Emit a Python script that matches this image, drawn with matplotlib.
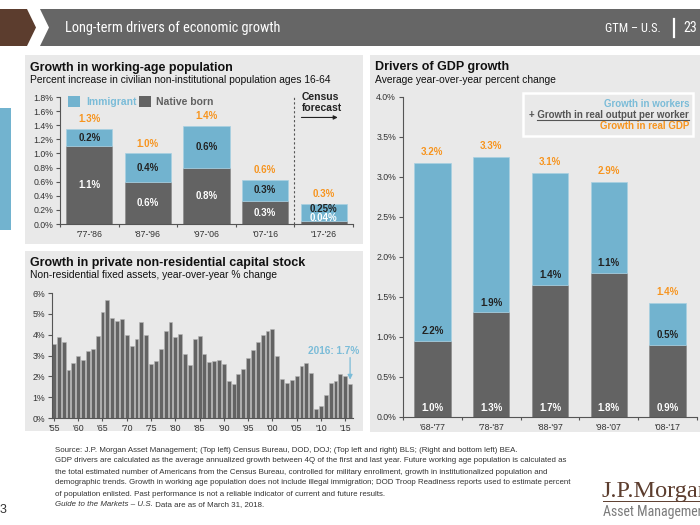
import numpy as np
import matplotlib
matplotlib.use("Agg")
import matplotlib.pyplot as plt
from matplotlib.patches import Rectangle, Polygon
from matplotlib.lines import Line2D
from matplotlib import font_manager as fm

plt.rcParams['font.family'] = ['Liberation Sans', 'DejaVu Sans']

# ---------------- data ----------------
pop_periods = ["'77-'86", "'87-'96", "'97-'06", "'07-'16", "'17-'26"]
pop_native = [1.10, 0.59, 0.80, 0.32, 0.04]
pop_immigrant = [0.25, 0.41, 0.59, 0.31, 0.25]
pop_native_lbl = ["1.1%", "0.6%", "0.8%", "0.3%", "0.04%"]
pop_immig_lbl = ["0.2%", "0.4%", "0.6%", "0.3%", "0.25%"]
pop_total_lbl = ["1.3%", "1.0%", "1.4%", "0.6%", "0.3%"]

cap_years = list(range(1955, 2017))
cap_growth = [3.57, 3.90, 3.63, 2.29, 2.66, 2.98, 2.77, 3.22, 3.33, 3.96,
              5.11, 5.67, 4.81, 4.67, 4.76, 3.98, 3.44, 3.80, 4.59, 4.00,
              2.60, 2.74, 3.33, 4.19, 4.60, 3.90, 4.04, 3.07, 2.56, 3.79,
              3.92, 3.09, 2.70, 2.74, 2.80, 2.60, 1.80, 1.64, 2.12, 2.36,
              2.88, 3.28, 3.66, 4.00, 4.16, 4.28, 2.99, 1.86, 1.70, 1.83,
              2.02, 2.48, 2.66, 2.17, 0.41, 0.59, 1.11, 1.66, 1.77, 2.09,
              2.02, 1.62]
cap_tick_years = list(range(1955, 2016, 5))
cap_tick_lbl = ["'55", "'60", "'65", "'70", "'75", "'80", "'85", "'90",
                "'95", "'00", "'05", "'10", "'15"]

gdp_periods = ["'68-'77", "'78-'87", "'88-'97", "'98-'07", "'08-'17"]
gdp_output_per_worker = [0.95, 1.31, 1.65, 1.80, 0.90]
gdp_workers = [2.22, 1.94, 1.40, 1.14, 0.525]
gdp_opw_lbl = ["1.0%", "1.3%", "1.7%", "1.8%", "0.9%"]
gdp_wrk_lbl = ["2.2%", "1.9%", "1.4%", "1.1%", "0.5%"]
gdp_total_lbl = ["3.2%", "3.3%", "3.1%", "2.9%", "1.4%"]

# ---------------- styling ----------------
DARK = '#636363'
BLUE = '#72b3cf'
BLUE_TXT = '#7bbcd8'
ORANGE = '#f7941e'
PANEL = '#e9e9e9'
AXC = '#555555'
TXT = '#222222'

W, H = 700, 525
fig = plt.figure(figsize=(7, 5.25), dpi=100)
fig.patch.set_facecolor('white')
renderer = fig.canvas.get_renderer()


def find_narrow():
    prefs = ['liberationsansnarrow-regular', 'robotocondensed-regular',
             'opensanscondensed', 'dejavusanscondensed.ttf']
    files = [f.fname for f in fm.fontManager.ttflist]
    for p in prefs:
        for fn in files:
            if p in fn.lower().replace(' ', '').replace('_', ''):
                return fm.FontProperties(fname=fn)
    for fn in files:
        low = fn.lower()
        if ('condensed' in low or 'narrow' in low) and 'bold' not in low \
                and 'italic' not in low and 'oblique' not in low:
            return fm.FontProperties(fname=fn)
    return fm.FontProperties(family='Liberation Sans')


NARROW = find_narrow()


def fx(x):
    return x / W


def fy(y):
    return 1 - y / H


def frect(x0, y0, x1, y1, **kw):
    r = Rectangle((fx(x0), fy(y1)), (x1 - x0) / W, (y1 - y0) / H,
                  transform=fig.transFigure, **kw)
    fig.add_artist(r)
    return r


def fpoly(pts, **kw):
    p = Polygon([(fx(a), fy(b)) for a, b in pts], closed=True,
                transform=fig.transFigure, **kw)
    fig.add_artist(p)
    return p


def fit_text(x, y, s, target_w, size, maxsize=None, fp=None, **kw):
    """Text whose font size is adjusted so its width is about target_w px."""
    if fp is not None:
        fp = fp.copy()
        fp.set_size(size)
        t = fig.text(fx(x), fy(y), s, fontproperties=fp, **kw)
    else:
        t = fig.text(fx(x), fy(y), s, fontsize=size, **kw)
    w = t.get_window_extent(renderer=renderer).width
    new = size * target_w / w
    if maxsize is not None:
        new = min(new, maxsize)
    t.set_fontsize(new)
    return t


# ---------------- header ----------------
fpoly([(0, 9), (27, 9), (36, 27.5), (27, 46), (0, 46)], color='#5c3d2e', zorder=-1, lw=0)
fpoly([(40, 9), (700, 9), (700, 46), (40, 46), (49, 27.5)], color='#666666', zorder=-1, lw=0)
fit_text(65, 28, 'Long-term drivers of economic growth', 215, 12, maxsize=14,
         fp=NARROW, color='white', va='center', ha='left')
fit_text(661, 29, 'GTM – U.S.', 56, 9, maxsize=11, fp=NARROW, color='white',
         va='center', ha='right')
fig.add_artist(Line2D([fx(674), fx(674)], [fy(19), fy(37)], color='white', lw=1.6,
                      transform=fig.transFigure))
fit_text(697, 28, '23', 14, 11, maxsize=13, fp=NARROW, color='white',
         va='center', ha='right')

# left tab
frect(0, 108, 11, 230, color='#72b3cf', zorder=-1, lw=0)

# panels
frect(25, 55, 363, 244, color=PANEL, zorder=-1, lw=0)
frect(25, 251, 363, 431, color=PANEL, zorder=-1, lw=0)
frect(370, 55, 700, 432, color=PANEL, zorder=-1, lw=0)


def style_axes(ax):
    ax.set_facecolor('none')
    for s in ['top', 'right']:
        ax.spines[s].set_visible(False)
    for s in ['left', 'bottom']:
        ax.spines[s].set_color(AXC)
        ax.spines[s].set_linewidth(0.8)
    ax.tick_params(axis='y', length=3, width=0.8, color=AXC, labelsize=6.3,
                   labelcolor='#333333', pad=2)
    ax.tick_params(axis='x', length=0, labelsize=6.3, labelcolor='#333333', pad=4)
    ax.tick_params(axis='x', which='minor', length=2.5, width=0.8, color=AXC)


LBL = 7.0
TITLE = 9.0
SUB = 7.4

# ---------------- top-left: working-age population ----------------
ax1 = fig.add_axes([fx(60), fy(224), (353 - 60) / W, (224 - 97) / H])
style_axes(ax1)
x1 = np.arange(len(pop_periods))
ax1.bar(x1, pop_native, width=0.79, color=DARK, edgecolor='#8c8c8c', lw=0.5)
ax1.bar(x1, pop_immigrant, bottom=pop_native, width=0.79, color=BLUE,
        edgecolor='#a8d0e2', lw=0.5)
ax1.set_xlim(-0.5, 4.5)
ax1.set_ylim(0, 1.8)
ax1.set_yticks(np.arange(0, 1.81, 0.2))
ax1.set_yticklabels(['%.1f%%' % v for v in np.arange(0, 1.81, 0.2)])
ax1.set_xticks(x1)
ax1.set_xticklabels(pop_periods)
ax1.set_xticks(np.arange(-0.5, 4.6, 1), minor=True)
for i in range(len(x1)):
    n, im = pop_native[i], pop_immigrant[i]
    yn = max(n / 2, 0.08)
    ax1.text(i, yn, pop_native_lbl[i], ha='center', va='center', color='white',
             fontsize=LBL, fontweight='bold')
    yi = max(n + im / 2, yn + 0.13)
    ax1.text(i, yi, pop_immig_lbl[i], ha='center', va='center', color=TXT,
             fontsize=LBL, fontweight='bold')
    ax1.text(i, n + im + 0.14, pop_total_lbl[i], ha='center', va='center',
             color=ORANGE, fontsize=LBL, fontweight='bold')
ax1.axvline(3.5, ymin=0, ymax=1, color=AXC, lw=0.8, ls=(0, (2, 2)))
ax1.text(3.62, 1.80, 'Census', ha='left', va='center', fontsize=7.5,
         fontweight='bold', color=TXT, clip_on=False)
ax1.text(3.62, 1.64, 'forecast', ha='left', va='center', fontsize=7.5,
         fontweight='bold', color=TXT, clip_on=False)
ax1.annotate('', xy=(4.24, 1.51), xytext=(3.62, 1.51),
             arrowprops=dict(arrowstyle='-|>', color=TXT, lw=0.8, mutation_scale=6,
                             shrinkA=0, shrinkB=0))
# legend
frect(68, 96, 80, 107, color=BLUE, lw=0)
fig.text(fx(86), fy(102), 'Immigrant', color=BLUE_TXT, fontsize=7.5,
         fontweight='bold', va='center')
frect(139, 96, 151, 107, color=DARK, lw=0)
fig.text(fx(156), fy(102), 'Native born', color='#606060', fontsize=7.5,
         fontweight='bold', va='center')
fig.text(fx(30), fy(68), 'Growth in working-age population', fontsize=TITLE,
         fontweight='bold', color='#111111', va='center')
fig.text(fx(30), fy(80), 'Percent increase in civilian non-institutional population ages 16-64',
         fontsize=SUB, color='#111111', va='center')

# ---------------- bottom-left: capital stock ----------------
ax2 = fig.add_axes([fx(52), fy(418), (353 - 52) / W, (418 - 293) / H])
style_axes(ax2)
ax2.bar(cap_years, cap_growth, width=0.8, color=DARK, edgecolor='#b5b5b5', lw=0.4)
ax2.set_xlim(1954.6, 2016.6)
ax2.set_ylim(0, 6)
ax2.set_yticks(range(0, 7))
ax2.set_yticklabels(['%d%%' % v for v in range(0, 7)])
ax2.set_xticks(cap_tick_years)
ax2.set_xticklabels(cap_tick_lbl)
ax2.tick_params(axis='x', length=2.5, width=0.8, color=AXC, pad=2)
ax2.text(2012.6, 3.22, '2016: 1.7%', ha='center', va='center', fontsize=7.2,
         fontweight='bold', color=BLUE_TXT, clip_on=False)
ax2.annotate('', xy=(cap_years[-1], cap_growth[-1] + 0.22), xytext=(cap_years[-1], 2.9),
             arrowprops=dict(arrowstyle='-|>', color=BLUE_TXT, lw=0.9,
                             mutation_scale=7, shrinkA=0, shrinkB=0),
             annotation_clip=False)
fig.text(fx(30), fy(263), 'Growth in private non-residential capital stock', fontsize=TITLE,
         fontweight='bold', color='#111111', va='center')
fig.text(fx(30), fy(275), 'Non-residential fixed assets, year-over-year % change',
         fontsize=SUB, color='#111111', va='center')

# ---------------- right: GDP drivers ----------------
ax3 = fig.add_axes([fx(403), fy(417), (697 - 403) / W, (417 - 97) / H])
style_axes(ax3)
x3 = np.arange(len(gdp_periods))
ax3.bar(x3, gdp_output_per_worker, width=0.62, color=DARK, edgecolor='#8c8c8c', lw=0.5)
ax3.bar(x3, gdp_workers, bottom=gdp_output_per_worker, width=0.62, color=BLUE,
        edgecolor='#a8d0e2', lw=0.5)
ax3.set_xlim(-0.5, 4.5)
ax3.set_ylim(0, 4)
ax3.set_yticks(np.arange(0, 4.01, 0.5))
ax3.set_yticklabels(['%.1f%%' % v for v in np.arange(0, 4.01, 0.5)])
ax3.set_xticks(x3)
ax3.set_xticklabels(gdp_periods)
ax3.set_xticks(np.arange(-0.5, 4.6, 1), minor=True)
for i in range(len(x3)):
    o, w = gdp_output_per_worker[i], gdp_workers[i]
    ax3.text(i, 0.11, gdp_opw_lbl[i], ha='center', va='center', color='white',
             fontsize=LBL, fontweight='bold')
    ax3.text(i, o + 0.12, gdp_wrk_lbl[i], ha='center', va='center', color=TXT,
             fontsize=LBL, fontweight='bold')
    ax3.text(i, o + w + 0.14, gdp_total_lbl[i], ha='center', va='center',
             color=ORANGE, fontsize=LBL, fontweight='bold')
# legend box
frect(523, 93, 693, 136, facecolor='none', edgecolor='white', lw=1.8)
fig.text(fx(689), fy(104), 'Growth in workers', ha='right', va='center',
         color=BLUE_TXT, fontsize=7.0, fontweight='bold')
t_plus = fig.text(fx(689), fy(115), '+ Growth in real output per worker', ha='right',
                  va='center', color='#555555', fontsize=7.0, fontweight='bold')
bbp = t_plus.get_window_extent(renderer=renderer)
fig.add_artist(Line2D([bbp.x0 / fig.bbox.width + 8 / W, fx(689)], [fy(119.8), fy(119.8)],
                      color='#555555', lw=0.8, transform=fig.transFigure))
fig.text(fx(689), fy(126), 'Growth in real GDP', ha='right', va='center',
         color=ORANGE, fontsize=7.0, fontweight='bold')
fig.text(fx(375), fy(67), 'Drivers of GDP growth', fontsize=TITLE,
         fontweight='bold', color='#111111', va='center')
fig.text(fx(375), fy(80), 'Average year-over-year percent change',
         fontsize=SUB, color='#111111', va='center')

# ---------------- footer ----------------
foot = [
    "Source: J.P. Morgan Asset Management; (Top left) Census Bureau, DOD, DOJ; (Top left and right) BLS; (Right and bottom left) BEA.",
    "GDP drivers are calculated as the average annualized growth between 4Q of the first and last year. Future working age population is calculated as",
    "the total estimated number of Americans from the Census Bureau, controlled for military enrollment, growth in institutionalized population and",
    "demographic trends. Growth in working age population does not include illegal immigration; DOD Troop Readiness reports used to estimate percent",
    "of population enlisted. Past performance is not a reliable indicator of current and future results.",
]
fy0 = 450
ref = fit_text(55, fy0 + 33, foot[3], 525, 6.0, maxsize=6.6, color='#333333', va='center')
FS = ref.get_fontsize()
for k, line in enumerate(foot):
    if k == 3:
        continue
    fig.text(fx(55), fy(fy0 + 11 * k), line, fontsize=FS, color='#333333', va='center')
t_it = fig.text(fx(55), fy(fy0 + 55), 'Guide to the Markets – U.S.', fontsize=FS,
                color='#333333', va='center', style='italic')
bb = t_it.get_window_extent(renderer=renderer)
fig.text(bb.x1 / fig.bbox.width, fy(fy0 + 55), ' Data are as of March 31, 2018.',
         fontsize=FS, color='#333333', va='center')

fig.text(fx(0), fy(510), '3', fontsize=9, color='#333333', va='center', ha='left')

# logo
fig.text(fx(602), fy(497), 'J.P.Morgan', fontsize=17.5, color='#5c3d2e',
         family=['Liberation Serif', 'DejaVu Serif'], va='baseline', ha='left')
fig.add_artist(Line2D([fx(603), fx(700)], [fy(501), fy(501)], color='#5c3d2e',
                      lw=0.7, transform=fig.transFigure))
afp = NARROW.copy()
afp.set_size(10)
fig.text(fx(603), fy(516), 'Asset Management', fontproperties=afp, color='#7a7a7a',
         va='baseline', ha='left')

fig.savefig('out.png', dpi=100, facecolor='white')
